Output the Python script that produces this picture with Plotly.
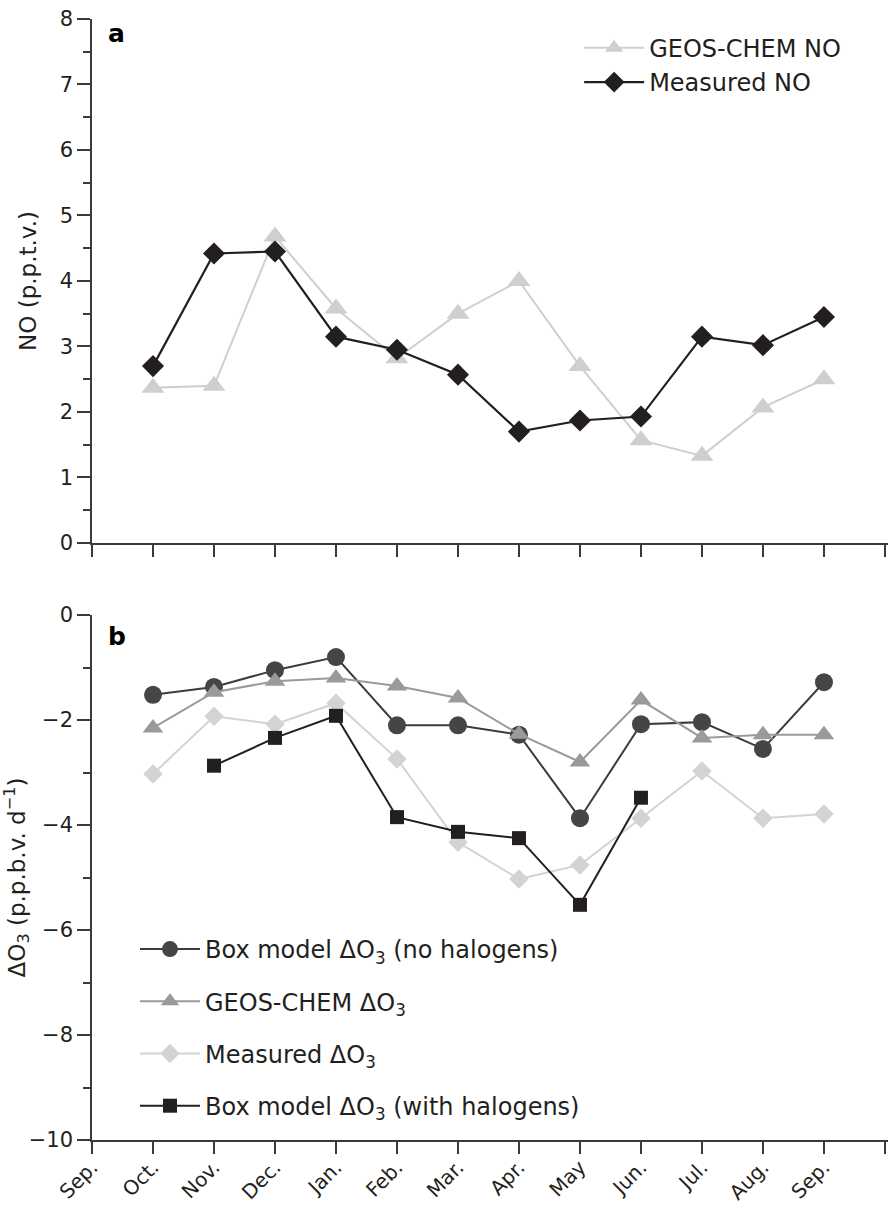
import plotly.graph_objects as go

# Month axis: Sep. through the following Oct.
tick_labels = ["Sep.", "Oct.", "Nov.", "Dec.", "Jan.", "Feb.", "Mar.", "Apr.",
               "May", "Jun.", "Jul.", "Aug.", "Sep.", "Oct."]
tick_pos = list(range(len(tick_labels)))
month_pos = list(range(1, 13))  # Oct. ... Sep.

# Panel a: NO mixing ratio (p.p.t.v.)
geos_no = [2.37, 2.40, 4.68, 3.58, 2.82, 3.50, 4.00, 2.70, 1.57, 1.33, 2.07, 2.50]
measured_no = [2.70, 4.42, 4.45, 3.15, 2.95, 2.57, 1.70, 1.87, 1.93, 3.15, 3.02, 3.45]

# Panel b: daily ozone change (p.p.b.v. per day)
box_no_hal = [-1.52, -1.37, -1.05, -0.80, -2.10, -2.10, -2.28, -3.87, -2.08, -2.04, -2.55, -1.28]
geos_do3 = [-2.15, -1.47, -1.26, -1.20, -1.35, -1.58, -2.27, -2.80, -1.62, -2.34, -2.28, -2.28]
measured_do3 = [-3.03, -1.93, -2.08, -1.68, -2.74, -4.33, -5.03, -4.76, -3.87, -2.97, -3.87, -3.79]
box_hal = [None, -2.87, -2.34, -1.92, -3.85, -4.13, -4.25, -5.52, -3.48, None, None, None]

INK = "#231f20"
AXIS = "#3a3a3a"
FONT = "DejaVu Sans, Arial, sans-serif"

fig = go.Figure()

# Panel a
fig.add_trace(go.Scatter(
    x=month_pos, y=geos_no, mode="lines+markers", name="GEOS-CHEM NO",
    line=dict(color="#cfcfcf", width=2),
    marker=dict(symbol="triangle-up", size=20, color="#cfcfcf"),
    xaxis="x", yaxis="y", legend="legend"))
fig.add_trace(go.Scatter(
    x=month_pos, y=measured_no, mode="lines+markers", name="Measured NO",
    line=dict(color=INK, width=2.2),
    marker=dict(symbol="diamond", size=17, color=INK),
    xaxis="x", yaxis="y", legend="legend"))

# Panel b (drawing order differs from legend order)
fig.add_trace(go.Scatter(
    x=month_pos, y=measured_do3, mode="lines+markers", name="Measured ΔO<sub>3</sub>",
    line=dict(color="#d3d3d3", width=2),
    marker=dict(symbol="diamond", size=15, color="#d3d3d3"),
    xaxis="x2", yaxis="y2", legend="legend2", legendrank=3, legendgroup="m"))
fig.add_trace(go.Scatter(
    x=month_pos, y=box_no_hal, mode="lines+markers", name="Box model ΔO<sub>3</sub> (no halogens)",
    line=dict(color="#3c3c3c", width=2),
    marker=dict(symbol="circle", size=18, color="#454545"),
    xaxis="x2", yaxis="y2", legend="legend2", legendrank=1, legendgroup="c"))
fig.add_trace(go.Scatter(
    x=month_pos, y=geos_do3, mode="lines+markers", name="GEOS-CHEM ΔO<sub>3</sub>",
    line=dict(color="#9a9a9a", width=2),
    marker=dict(symbol="triangle-up", size=18, color="#9a9a9a"),
    xaxis="x2", yaxis="y2", legend="legend2", legendrank=2, legendgroup="g"))
fig.add_trace(go.Scatter(
    x=month_pos, y=box_hal, mode="lines+markers", name="Box model ΔO<sub>3</sub> (with halogens)",
    line=dict(color=INK, width=2),
    marker=dict(symbol="square", size=14, color=INK),
    connectgaps=False,
    xaxis="x2", yaxis="y2", legend="legend2", legendrank=4, legendgroup="s"))

common_x = dict(
    range=[0, 13.05], tickmode="array", tickvals=tick_pos,
    ticks="outside", ticklen=12, tickwidth=1.5, tickcolor=AXIS,
    showline=True, linecolor=AXIS, linewidth=1.5,
    showgrid=False, zeroline=False, fixedrange=True, automargin=False,
)
common_y = dict(
    ticks="outside", ticklen=13, tickwidth=1.5, tickcolor=AXIS,
    showline=True, linecolor=AXIS, linewidth=1.5,
    showgrid=False, zeroline=False, automargin=False,
    tickfont=dict(size=21, color=INK),
)

fig.update_layout(
    width=892, height=1207,
    margin=dict(l=92, r=4, t=19, b=67),
    paper_bgcolor="white", plot_bgcolor="white",
    font=dict(family=FONT, color=INK, size=21),
    xaxis=dict(common_x, anchor="y", domain=[0, 1], showticklabels=False),
    yaxis=dict(common_y, domain=[0.5326, 1], range=[0, 8], dtick=1,
               minor=dict(dtick=0.5, ticks="outside", ticklen=7, tickwidth=1.5, tickcolor=AXIS),
               title=dict(text="NO (p.p.t.v.)", font=dict(size=23), standoff=17)),
    xaxis2=dict(common_x, anchor="y2", domain=[0, 1], ticktext=tick_labels,
                tickangle=-45, tickfont=dict(size=20, color=INK), ticklabelstandoff=-6),
    yaxis2=dict(common_y, domain=[0, 0.4683], range=[-10, 0], dtick=2,
                minor=dict(dtick=1, ticks="outside", ticklen=7, tickwidth=1.5, tickcolor=AXIS),
                title=dict(text="ΔO<sub>3</sub> (p.p.b.v. d<sup>−1</sup>)", font=dict(size=23), standoff=6)),
    legend=dict(x=0.612, y=0.994, xanchor="left", yanchor="top",
                font=dict(size=24, color=INK), bgcolor="rgba(0,0,0,0)",
                tracegroupgap=3, itemwidth=60),
    legend2=dict(x=0.054, y=0.190, xanchor="left", yanchor="top",
                 font=dict(size=24, color=INK), bgcolor="rgba(0,0,0,0)",
                 traceorder="grouped", tracegroupgap=18, itemwidth=60),
    annotations=[
        dict(text="<b>a</b>", x=0.018, y=0.987, xref="paper", yref="paper",
             xanchor="left", yanchor="middle", showarrow=False, font=dict(size=25, color="black")),
        dict(text="<b>b</b>", x=0.018, y=0.4495, xref="paper", yref="paper",
             xanchor="left", yanchor="middle", showarrow=False, font=dict(size=25, color="black")),
    ],
    showlegend=True,
)

fig.write_html("out.html")
